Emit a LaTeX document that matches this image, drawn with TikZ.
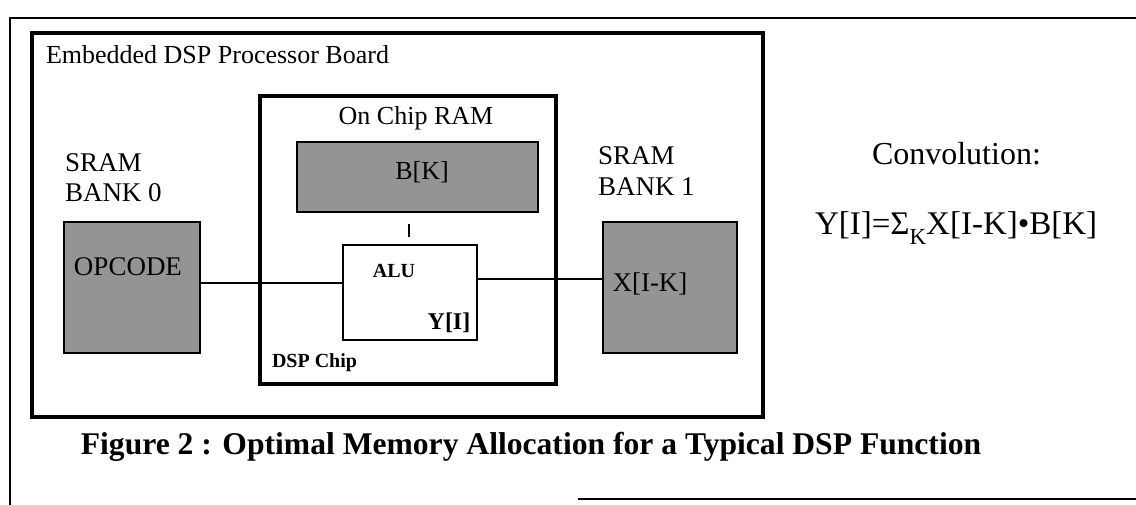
\documentclass[tikz,border=0pt]{standalone}
\usepackage{fontspec}
\setmainfont{Liberation Serif}
\begin{document}
\begin{tikzpicture}[x=1pt,y=-1pt,
  frameline/.style={line width=1.6pt},
  boardbox/.style={draw, line width=3.6pt, inner sep=0pt, outer sep=0pt, anchor=north west},
  chipbox/.style={draw, line width=3.4pt, inner sep=0pt, outer sep=0pt, anchor=north west},
  membox/.style={draw, line width=2.4pt, fill=black!42, inner sep=0pt, outer sep=0pt, anchor=north west},
  alubox/.style={draw, line width=2.2pt, fill=white, inner sep=0pt, outer sep=0pt, anchor=north west},
  wire/.style={line width=1.6pt},
  txt/.style={inner sep=0pt, outer sep=0pt},
  big/.style={txt, font=\fontsize{26}{30}\selectfont},
  sram/.style={txt, font=\fontsize{27}{31}\selectfont},
  smallbold/.style={txt, font=\fontsize{20}{24}\selectfont\bfseries},
  eqn/.style={txt, font=\fontsize{33}{38}\selectfont},
  caption/.style={txt, font=\fontsize{31.6}{36}\selectfont\bfseries}
]
\useasboundingbox (0,0) rectangle (1136,505);

% outer frame
\draw[frameline] (10,505) -- (10,18) -- (1136,18);
\draw[frameline] (578,499) -- (1136,499);

% board and chip
\node[boardbox, minimum width=731pt, minimum height=384pt] (board) at (32,33) {};
\node[chipbox, minimum width=296pt, minimum height=288pt] (chip) at (260,96) {};

% memory boxes
\node[membox, minimum width=241pt, minimum height=70pt] (bk) at (297,142) {};
\node[membox, minimum width=136pt, minimum height=131pt] (op) at (64,222) {};
\node[membox, minimum width=134pt, minimum height=131pt] (xb) at (603,222) {};

% ALU
\node[alubox, minimum width=134pt, minimum height=95pt] (alu) at (343,245) {};

% connectors
\draw[wire] (op.east |- 0,283) -- (alu.west |- 0,283);
\draw[wire] (alu.east |- 0,279) -- (xb.west |- 0,279);
\coordinate (tickA) at (409,224);
\coordinate (tickB) at (409,237);
\draw[wire] (tickA) -- (tickB);

% texts
\node[big, anchor=base west] (title) at (46,64) {Embedded DSP Processor Board};
\node[sram, anchor=base west] (sram0) at (65,172) {SRAM};
\node[sram, anchor=base west] (bank0) at (65,202) {BANK 0};
\node[sram, anchor=base west] (sram1) at (598,165) {SRAM};
\node[sram, anchor=base west] (bank1) at (598,196) {BANK 1};
\node[big, anchor=base] (ramlbl) at (416,125) {On Chip RAM};
\node[big, anchor=base] (bklbl) at (422,180) {B[K]};
\node[sram, anchor=base] (oplbl) at (128,276) {OPCODE};
\node[sram, anchor=base] (xlbl) at (650,292) {X[I-K]};
\node[smallbold, anchor=base] (alulbl) at (394,278) {ALU};
\node[txt, font=\fontsize{24}{28}\selectfont\bfseries, anchor=base] (ylbl) at (449,330) {Y[I]};
\node[smallbold, anchor=base west] (chiplbl) at (272,367) {DSP Chip};
\node[eqn, font=\fontsize{32}{38}\selectfont, anchor=base west] (conv) at (872,165) {Convolution:};
\node[eqn, anchor=base west] (formula) at (815,235) {Y[I]=Σ\raisebox{-0.28em}{\fontsize{23}{23}\selectfont K}X[I-K]•B[K]};
\node[caption, anchor=base] (cap) at (531,454) {Figure 2 : Optimal Memory Allocation for a Typical DSP Function};
\end{tikzpicture}
\end{document}
